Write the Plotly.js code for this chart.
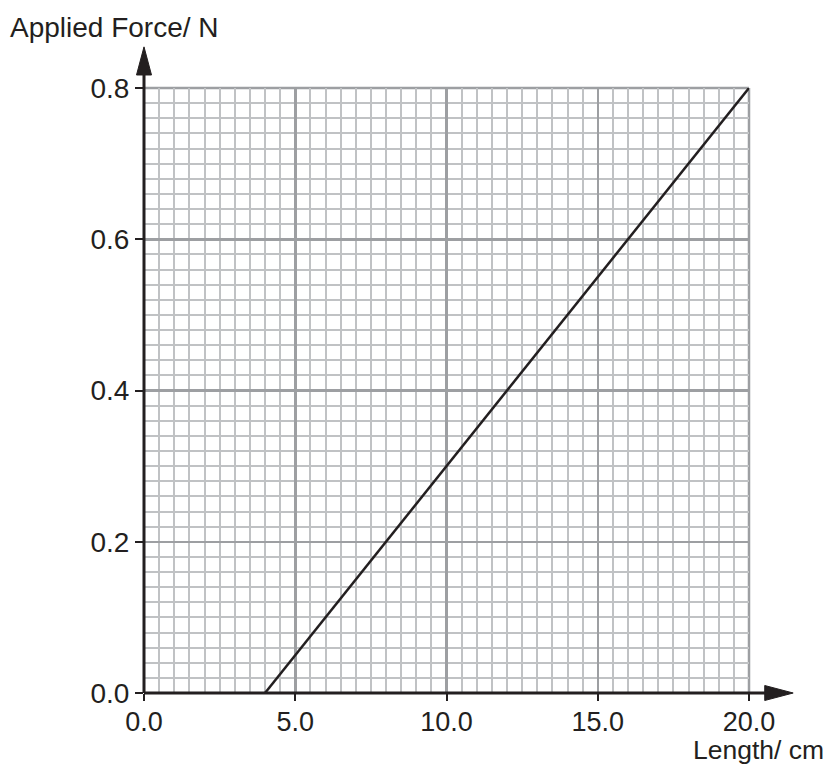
<!DOCTYPE html>
<html>
<head>
<meta charset="utf-8">
<script src="https://cdn.plot.ly/plotly-3.0.1.min.js"></script>
<style>html,body{margin:0;padding:0;background:#fff;}#chart{width:827px;height:766px;}</style>
</head>
<body>
<div id="chart"></div>
<script>
var lengthCm = [4.0, 10.0, 15.0, 20.0];
var forceN = [0.0, 0.3, 0.55, 0.8];
var xTickVals = [0, 5, 10, 15, 20];
var xTickText = ["0.0", "5.0", "10.0", "15.0", "20.0"];
var yTickVals = [0, 0.2, 0.4, 0.6, 0.8];
var yTickText = ["0.0", "0.2", "0.4", "0.6", "0.8"];

var ink = '#231f20';
var font = {family: '"Liberation Sans", Arial, sans-serif', size: 28, color: ink};
var fontX = {family: '"Liberation Sans", Arial, sans-serif', size: 27, color: ink};
var font2 = {family: '"Liberation Sans", Arial, sans-serif', size: 26.5, color: ink};

var trace = {
  x: lengthCm, y: forceN, type: 'scatter', mode: 'lines',
  line: {color: ink, width: 2.5}, hoverinfo: 'skip', cliponaxis: false
};

var W = 605; // plot size px
var ax = 7.5 / W;
var layout = {
  width: 827, height: 766,
  margin: {l: 144, r: 78, t: 88, b: 73, pad: 0},
  paper_bgcolor: '#fff', plot_bgcolor: '#fff',
  showlegend: false,
  font: font,
  xaxis: {
    range: [0, 20], tickvals: xTickVals, ticktext: xTickText,
    showgrid: true, gridcolor: '#9d9fa2', gridwidth: 2.5,
    minor: {dtick: 0.5, tick0: 0, showgrid: true, gridcolor: '#c0c2c4', gridwidth: 2, ticks: ''},
    zeroline: false, showline: false,
    ticks: 'outside', ticklen: 7, tickwidth: 2, tickcolor: ink,
    ticklabelstandoff: -2,
    tickfont: fontX, fixedrange: true
  },
  yaxis: {
    range: [0, 0.8], tickvals: yTickVals, ticktext: yTickText,
    showgrid: true, gridcolor: '#9d9fa2', gridwidth: 2.5,
    minor: {dtick: 0.02, tick0: 0, showgrid: true, gridcolor: '#c0c2c4', gridwidth: 2, ticks: ''},
    zeroline: false, showline: false,
    ticks: 'outside', ticklen: 8, tickwidth: 2, tickcolor: ink,
    tickfont: font, fixedrange: true
  },
  shapes: [
    {type: 'line', xref: 'paper', yref: 'paper', x0: 0, x1: 1, y0: 1, y1: 1, line: {color: '#9d9fa2', width: 2.5}, layer: 'below'},
    {type: 'line', xref: 'paper', yref: 'paper', x0: 1, x1: 1, y0: 0, y1: 1, line: {color: '#9d9fa2', width: 2.5}, layer: 'below'},
    {type: 'line', xref: 'paper', yref: 'paper', x0: 0, x1: 1.03, y0: 0, y1: 0, line: {color: ink, width: 3}},
    {type: 'path', xref: 'paper', yref: 'paper',
     path: 'M 1.026 ' + (-ax) + ' L 1.073 0 L 1.026 ' + ax + ' Z',
     fillcolor: ink, line: {color: ink, width: 1}},
    {type: 'line', xref: 'paper', yref: 'paper', x0: 0, x1: 0, y0: 0, y1: 1.025, line: {color: ink, width: 3}},
    {type: 'path', xref: 'paper', yref: 'paper',
     path: 'M ' + (-ax) + ' 1.0215 L 0 1.068 L ' + ax + ' 1.0215 Z',
     fillcolor: ink, line: {color: ink, width: 1}}
  ],
  annotations: [
    {text: 'Applied Force/ N', xref: 'paper', yref: 'paper', x: -136 / W, y: 1 + 60 / W,
     xanchor: 'left', yanchor: 'middle', showarrow: false, font: font},
    {text: 'Length/ cm', xref: 'paper', yref: 'paper', x: 1 + 76 / W, y: -(766 - 693) / W,
     xanchor: 'right', yanchor: 'bottom', showarrow: false, font: font2, borderpad: 0}
  ]
};

Plotly.newPlot('chart', [trace], layout, {displayModeBar: false, staticPlot: true});
</script>
</body>
</html>
